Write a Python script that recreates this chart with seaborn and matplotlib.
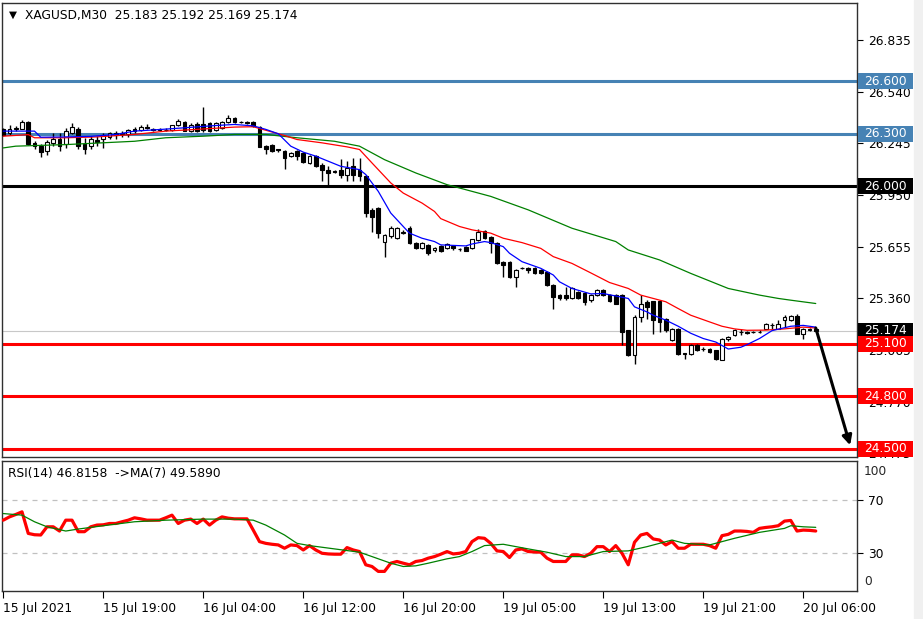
import numpy as np
import pandas as pd
import matplotlib
matplotlib.use("Agg")
import matplotlib.pyplot as plt
import matplotlib.transforms as mtransforms
from matplotlib.patches import Rectangle
import seaborn as sns

# ---------------- data ----------------
symbol_title = "XAGUSD,M30  25.183 25.192 25.169 25.174"
rsi_title = "RSI(14) 46.8158  ->MA(7) 49.5890"

opens = [26.329, 26.306, 26.325, 26.329, 26.367, 26.248, 26.232, 26.201, 26.248, 26.268, 26.239, 26.306, 26.329, 26.239, 26.229, 26.264, 26.271, 26.283, 26.306, 26.306, 26.296, 26.325, 26.321, 26.340,
         26.326, 26.325, 26.320, 26.321, 26.348, 26.367, 26.318, 26.358, 26.358, 26.359, 26.323, 26.332, 26.367, 26.392, 26.366, 26.366, 26.367, 26.340, 26.229, 26.235, 26.210, 26.200, 26.175, 26.200,
         26.191, 26.133, 26.172, 26.124, 26.095, 26.088, 26.095, 26.067, 26.114, 26.095, 26.057, 25.866, 25.875, 25.684, 25.713, 25.703, 25.732, 25.761, 25.675, 25.646, 25.665, 25.636,
         25.659, 25.645, 25.659, 25.641, 25.655, 25.645, 25.693, 25.747, 25.712, 25.678, 25.569, 25.569, 25.483, 25.535, 25.535, 25.531, 25.521, 25.512, 25.435, 25.378, 25.378, 25.359, 25.397, 25.391,
         25.349, 25.378, 25.406, 25.378, 25.378, 25.378, 25.177, 25.034, 25.254, 25.340, 25.345, 25.345, 25.244, 25.120, 25.187, 25.045, 25.043, 25.091, 25.072, 25.072, 25.062, 25.010, 25.125, 25.148,
         25.165, 25.166, 25.165, 25.168, 25.186, 25.207, 25.186, 25.234, 25.238, 25.257, 25.158, 25.183, 25.183]
highs = [26.334, 26.348, 26.345, 26.378, 26.370, 26.258, 26.240, 26.264, 26.306, 26.306, 26.334, 26.363, 26.340, 26.277, 26.287, 26.287, 26.306, 26.310, 26.315, 26.315, 26.329, 26.336, 26.348, 26.356,
         26.330, 26.332, 26.330, 26.352, 26.382, 26.372, 26.360, 26.365, 26.455, 26.366, 26.368, 26.375, 26.405, 26.398, 26.374, 26.372, 26.375, 26.345, 26.235, 26.240, 26.215, 26.205, 26.195, 26.205,
         26.195, 26.180, 26.178, 26.130, 26.114, 26.092, 26.153, 26.143, 26.162, 26.162, 26.062, 25.875, 25.880, 25.730, 25.770, 25.768, 25.748, 25.770, 25.680, 25.680, 25.672, 25.652,
         25.665, 25.676, 25.665, 25.648, 25.660, 25.700, 25.754, 25.752, 25.716, 25.682, 25.575, 25.574, 25.526, 25.540, 25.540, 25.536, 25.526, 25.516, 25.440, 25.384, 25.426, 25.422, 25.402, 25.396,
         25.385, 25.412, 25.412, 25.385, 25.384, 25.384, 25.180, 25.262, 25.378, 25.349, 25.345, 25.350, 25.250, 25.192, 25.192, 25.050, 25.096, 25.096, 25.080, 25.076, 25.066, 25.135, 25.145, 25.186,
         25.186, 25.172, 25.175, 25.176, 25.220, 25.219, 25.234, 25.263, 25.262, 25.269, 25.190, 25.188, 25.192]
lows = [26.287, 26.290, 26.318, 26.325, 26.236, 26.210, 26.168, 26.176, 26.229, 26.201, 26.220, 26.298, 26.210, 26.187, 26.210, 26.229, 26.220, 26.271, 26.271, 26.283, 26.283, 26.306, 26.315, 26.325,
        26.315, 26.316, 26.314, 26.318, 26.344, 26.314, 26.312, 26.310, 26.312, 26.310, 26.318, 26.326, 26.360, 26.360, 26.360, 26.358, 26.340, 26.222, 26.185, 26.196, 26.198, 26.099, 26.165, 26.150,
        26.133, 26.128, 26.108, 26.028, 26.009, 26.078, 26.047, 26.028, 26.028, 26.028, 25.827, 25.741, 25.703, 25.598, 25.705, 25.700, 25.725, 25.668, 25.640, 25.640, 25.608, 25.625,
        25.625, 25.640, 25.638, 25.628, 25.628, 25.640, 25.690, 25.698, 25.617, 25.555, 25.483, 25.478, 25.426, 25.528, 25.502, 25.498, 25.498, 25.430, 25.301, 25.352, 25.349, 25.354, 25.354, 25.320,
        25.340, 25.372, 25.372, 25.340, 25.325, 25.091, 25.028, 24.986, 25.225, 25.244, 25.158, 25.168, 25.170, 25.115, 25.038, 25.015, 25.038, 25.057, 25.060, 25.048, 25.010, 25.005, 25.115, 25.143,
        25.148, 25.158, 25.160, 25.160, 25.182, 25.186, 25.182, 25.196, 25.230, 25.158, 25.129, 25.175, 25.169]
closes = [26.290, 26.329, 26.330, 26.367, 26.239, 26.229, 26.195, 26.252, 26.271, 26.229, 26.315, 26.340, 26.229, 26.210, 26.271, 26.252, 26.290, 26.302, 26.290, 26.296, 26.321, 26.313, 26.340, 26.330,
          26.320, 26.322, 26.324, 26.348, 26.373, 26.318, 26.350, 26.316, 26.322, 26.315, 26.360, 26.367, 26.392, 26.365, 26.368, 26.364, 26.345, 26.226, 26.214, 26.200, 26.206, 26.160, 26.190, 26.170,
          26.137, 26.172, 26.114, 26.095, 26.076, 26.084, 26.067, 26.105, 26.067, 26.057, 25.847, 25.827, 25.732, 25.722, 25.761, 25.761, 25.741, 25.675, 25.646, 25.675, 25.617, 25.646,
          25.632, 25.670, 25.645, 25.640, 25.632, 25.697, 25.741, 25.703, 25.678, 25.559, 25.550, 25.483, 25.521, 25.533, 25.521, 25.502, 25.502, 25.435, 25.368, 25.359, 25.359, 25.416, 25.359, 25.340,
          25.378, 25.406, 25.378, 25.345, 25.330, 25.168, 25.034, 25.254, 25.330, 25.311, 25.235, 25.225, 25.177, 25.187, 25.043, 25.043, 25.091, 25.062, 25.070, 25.053, 25.015, 25.129, 25.139, 25.181,
          25.169, 25.163, 25.168, 25.166, 25.215, 25.205, 25.211, 25.253, 25.257, 25.158, 25.186, 25.181, 25.174]

# moving averages (bar index, value)
ma_fast_bars = [0, 5, 6, 10, 14, 18, 21, 25, 29, 34, 37, 40, 42, 44, 46, 48, 50, 52, 54, 57, 58, 60, 62, 64, 65, 67, 69, 70, 74, 75, 77, 78, 80, 81, 83, 86, 88, 89, 91, 94, 96, 100, 101, 103, 104, 106, 108, 110, 112, 114, 116, 118, 119, 121, 123, 126, 128, 130]
ma_fast_vals = [26.315, 26.315, 26.280, 26.282, 26.285, 26.296, 26.315, 26.324, 26.334, 26.347, 26.353, 26.345, 26.325, 26.300, 26.229, 26.195, 26.172, 26.143, 26.114, 26.095, 26.067, 25.971, 25.847, 25.770, 25.732, 25.703, 25.684, 25.665, 25.659, 25.670, 25.684, 25.678, 25.655, 25.617, 25.569, 25.531, 25.493, 25.454, 25.416, 25.385, 25.387, 25.359, 25.311, 25.282, 25.263, 25.235, 25.200, 25.160, 25.130, 25.110, 25.070, 25.080, 25.095, 25.130, 25.175, 25.200, 25.205, 25.195]
ma_mid_bars = [0, 4, 5, 10, 15, 21, 26, 31, 37, 40, 42, 45, 47, 51, 55, 57, 59, 62, 64, 67, 69, 70, 73, 75, 78, 80, 83, 86, 88, 91, 94, 97, 100, 102, 106, 108, 110, 113, 115, 117, 119, 122, 125, 128, 130]
ma_mid_vals = [26.286, 26.295, 26.277, 26.277, 26.282, 26.296, 26.315, 26.325, 26.338, 26.340, 26.320, 26.290, 26.267, 26.248, 26.225, 26.210, 26.133, 26.019, 25.961, 25.904, 25.856, 25.815, 25.770, 25.751, 25.732, 25.703, 25.678, 25.645, 25.598, 25.559, 25.505, 25.450, 25.416, 25.378, 25.340, 25.301, 25.263, 25.225, 25.200, 25.185, 25.177, 25.178, 25.185, 25.195, 25.190]
ma_slow_bars = [0, 2, 10, 21, 26, 32, 37, 42, 47, 53, 57, 61, 66, 71, 73, 78, 84, 91, 98, 100, 105, 110, 116, 121, 124, 126, 130]
ma_slow_vals = [26.219, 26.229, 26.238, 26.257, 26.277, 26.286, 26.296, 26.296, 26.277, 26.257, 26.229, 26.152, 26.076, 26.009, 25.990, 25.942, 25.865, 25.760, 25.684, 25.636, 25.579, 25.502, 25.416, 25.378, 25.359, 25.349, 25.330]

rsi_vals = [55, 57.5, 59.3, 61.3, 45, 44, 43.8, 50, 50, 46.8, 55, 55, 46.3, 46.3, 50, 51.3, 51.5, 52.5, 52.5, 53.8,
            55, 56.8, 56, 55, 55, 55, 56.8, 58.8, 52.5, 55, 55.8, 52.5, 55.8, 51.3, 55, 57.5, 56.5, 56, 56, 56,
            47.5, 38.8, 37.5, 36.8, 36.3, 33.8, 36.3, 35.8, 32.5, 35.8, 32.5, 30, 29.5, 29.3, 29.3, 34.3, 32.5, 31.3, 21.3, 20,
            16.3, 16.3, 22.5, 23.8, 22.5, 21.3, 23.8, 24.5, 26.3, 27.5, 29.3, 31.3, 29.5, 30, 31.3, 38.8, 41.8, 41.3, 37.5, 31.8,
            31.3, 26.8, 32.5, 33.3, 31.3, 31, 30.8, 26.3, 23.8, 23.8, 23.8, 28.8, 28.8, 27.5, 30, 35, 35, 31.3, 35.8, 30,
            21.3, 38.3, 43.8, 45, 40.8, 40, 36.3, 38.8, 33.8, 33.8, 36.8, 36.8, 36.8, 35.8, 33.8, 43.3, 44.3, 46.8, 46.8, 46.5,
            45.8, 48.8, 49.5, 50, 50.8, 54.3, 54.8, 46.8, 47.5, 47.3, 46.8158]
rsi_ma_bars = [0, 3, 5, 7, 10, 12, 16, 21, 26, 32, 37, 40, 42, 45, 47, 49, 53, 57, 59, 62, 64, 66, 68, 71, 73, 75, 77, 80, 84, 87, 90, 93, 96, 100, 103, 107, 109, 113, 117, 121, 125, 126, 128, 130]
rsi_ma_vals = [60, 58.8, 53.8, 50, 46.8, 48.3, 50.8, 53.8, 55, 55.8, 55.8, 55, 51.3, 43.8, 37.5, 35.8, 33.3, 30.8, 27.5, 22.5, 20, 20.5, 22.5, 25.8, 27.5, 31.3, 35.8, 36.8, 33.3, 30.8, 27.5, 27.5, 31.3, 31.8, 35, 40, 37.5, 36.3, 41.3, 45.8, 48.8, 50.8, 50, 49.589]

blue_levels = [26.600, 26.300]
black_levels = [26.000]
red_levels = [25.100, 24.800, 24.500]
current_price = 25.174
price_ticks = [26.835, 26.540, 26.245, 25.950, 25.655, 25.360, 25.065, 24.770, 24.475]
time_tick_bars = [0, 16, 32, 48, 64, 80, 96, 112, 128]
time_tick_labels = ["15 Jul 2021", "15 Jul 19:00", "16 Jul 04:00", "16 Jul 12:00", "16 Jul 20:00",
                    "19 Jul 05:00", "19 Jul 13:00", "19 Jul 21:00", "20 Jul 06:00"]
rsi_levels = [70, 30]
arrow_start = (130.0, 25.19)
arrow_end = (135.5, 24.52)

# ---------------- style ----------------
sns.set_style("white")
plt.rcParams['font.family'] = ['DejaVu Sans']
FS = 8.8
W, H = 923, 619
fig = plt.figure(figsize=(W / 100, H / 100), dpi=100)
fig.patch.set_facecolor("white")


def px_axes(l, t, r, b):
    return fig.add_axes([l / W, 1 - b / H, (r - l) / W, (b - t) / H])


ax = px_axes(2, 3, 857, 457)
axr = px_axes(2, 461, 857, 591)

xlim = (-0.2, 136.6)
ylim = (24.453, 27.047)

# light strip on far right like the terminal window edge
fig.patches.append(Rectangle((914 / W, 0), 9 / W, 1, transform=fig.transFigure,
                             color="#F0F0F0", zorder=0))

# ---------------- main price panel ----------------
df = pd.DataFrame(dict(open=opens, high=highs, low=lows, close=closes))
df["bar"] = np.arange(len(df))
up = df["close"] >= df["open"]

for v in blue_levels:
    ax.axhline(v, color="#4682B4", lw=2.2, zorder=1)
for v in black_levels:
    ax.axhline(v, color="black", lw=2.2, zorder=1)
for v in red_levels:
    ax.axhline(v, color="#FF0000", lw=2.2, zorder=1)
ax.axhline(current_price, color="#C8C8C8", lw=0.8, zorder=0.8)

ax.vlines(df["bar"], df["low"], df["high"], color="black", lw=1.0, zorder=3)
body_bottom = np.minimum(df["open"], df["close"])
body_h = np.maximum((df["close"] - df["open"]).abs(), 0.0012)
ax.bar(df["bar"], body_h, bottom=body_bottom, width=0.6,
       color=np.where(up, "white", "black"), edgecolor="black", linewidth=0.8, zorder=4)

sns.lineplot(x=ma_slow_bars, y=ma_slow_vals, ax=ax, color="#008000", lw=0.9, zorder=5)
sns.lineplot(x=ma_mid_bars, y=ma_mid_vals, ax=ax, color="#FF0000", lw=0.9, zorder=5)
sns.lineplot(x=ma_fast_bars, y=ma_fast_vals, ax=ax, color="#0000FF", lw=0.9, zorder=5)

ax.annotate("", xy=arrow_end, xytext=arrow_start,
            arrowprops=dict(arrowstyle="-|>", color="black", lw=2.2, mutation_scale=14,
                            shrinkA=0, shrinkB=0), zorder=6, annotation_clip=False)

ax.set_xlim(*xlim)
ax.set_ylim(*ylim)
ax.set_xticks([])
ax.set_xlabel("")
ax.set_ylabel("")
ax.yaxis.tick_right()
ax.set_yticks(price_ticks)
ax.set_yticklabels([f"{v:.3f}" for v in price_ticks])
ax.tick_params(axis="y", direction="out", length=4, width=0.8, pad=4, labelsize=FS,
               colors="black", right=True, left=False)

# price tags on the right scale
px_per_unit = (457 - 3) / (ylim[1] - ylim[0])
tag_h = 16 / px_per_unit
tag_tr = mtransforms.blended_transform_factory(fig.transFigure, ax.transData)


def price_tag(v, fc, z):
    ax.add_patch(Rectangle((858 / W, v - tag_h / 2), 55 / W, tag_h, transform=tag_tr,
                           facecolor=fc, edgecolor="none", clip_on=False, zorder=z))
    ax.text(864 / W, v, f"{v:.3f}", transform=tag_tr, ha="left", va="center",
            color="white", fontsize=FS, clip_on=False, zorder=z + 0.1)


z = 10
for v in blue_levels:
    price_tag(v, "#4682B4", z)
for v in black_levels:
    price_tag(v, "black", z)
price_tag(current_price, "black", z)
for v in red_levels:
    z += 1
    price_tag(v, "#FF0000", z)

fig.text(12.5 / W, 1 - 15 / H, "▼", fontsize=7.5, ha="center", va="center", color="black")
fig.text(25 / W, 1 - 16 / H, symbol_title, fontsize=FS, ha="left", va="center", color="black")

# ---------------- RSI panel ----------------
bars = np.arange(len(rsi_vals))
for lv in rsi_levels:
    axr.axhline(lv, color="#C0C0C0", lw=0.9, ls=(0, (4, 4)), zorder=1)
sns.lineplot(x=bars, y=rsi_vals, ax=axr, color="#FF0000", lw=2.3, zorder=3)
sns.lineplot(x=rsi_ma_bars, y=rsi_ma_vals, ax=axr, color="#008000", lw=0.9, zorder=4)
axr.set_xlim(*xlim)
axr.set_ylim(1.5, 99.7)
axr.set_xlabel("")
axr.set_ylabel("")
axr.yaxis.tick_right()
axr.set_yticks(rsi_levels)
axr.set_yticklabels([str(v) for v in rsi_levels])
axr.tick_params(axis="y", direction="out", length=4, width=0.8, pad=4, labelsize=FS,
                colors="black", right=True, left=False)
axr.annotate("100", xy=(1, 99.7), xycoords=("axes fraction", "data"), xytext=(7, -10.7),
             textcoords="offset pixels", ha="left", va="center", fontsize=FS, annotation_clip=False)
axr.annotate("0", xy=(1, 1.5), xycoords=("axes fraction", "data"), xytext=(7, 9.3),
             textcoords="offset pixels", ha="left", va="center", fontsize=FS, annotation_clip=False)
axr.set_xticks(time_tick_bars)
axr.set_xticklabels(time_tick_labels)
for lab in axr.get_xticklabels():
    lab.set_ha("left")
axr.tick_params(axis="x", direction="out", length=5, width=0.8, pad=3, labelsize=FS,
                colors="black", bottom=True)
fig.text(8 / W, 1 - 473 / H, rsi_title, fontsize=FS, ha="left", va="center", color="black")

for a in (ax, axr):
    for s in a.spines.values():
        s.set_visible(True)
        s.set_color("#303030")
        s.set_linewidth(1.0)

fig.savefig("out.png", dpi=100, facecolor="white")
